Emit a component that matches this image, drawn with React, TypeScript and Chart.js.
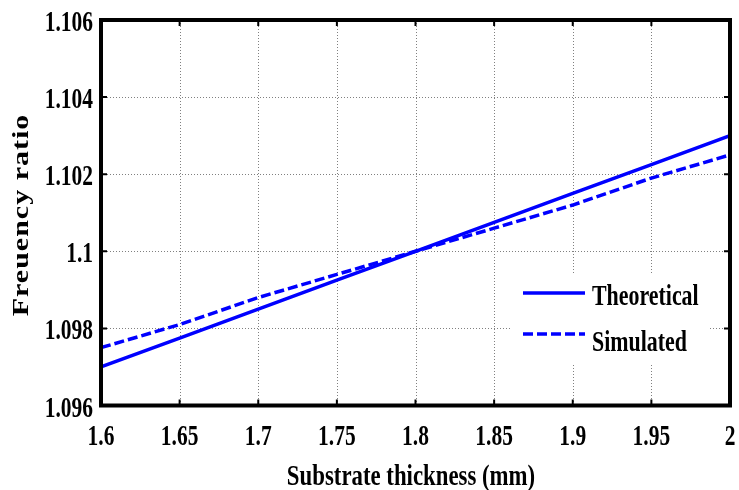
import React, { useEffect, useRef } from "react";
import { Chart, registerables } from "chart.js";

Chart.register(...registerables);

const thickness = [1.6, 1.65, 1.7, 1.75, 1.8, 1.85, 1.9, 1.95, 2.0];
const theoretical = [1.097, 1.09775, 1.0985, 1.09925, 1.1, 1.10075, 1.1015, 1.10225, 1.103];
const simulated = [1.0975, 1.0981, 1.0988, 1.0994, 1.1, 1.1006, 1.1012, 1.1019, 1.1025];
const xTicks = [1.6, 1.65, 1.7, 1.75, 1.8, 1.85, 1.9, 1.95, 2.0];
const xTickLabels = ["1.6", "1.65", "1.7", "1.75", "1.8", "1.85", "1.9", "1.95", "2"];
const yTicks = [1.096, 1.098, 1.1, 1.102, 1.104, 1.106];
const yTickLabels = ["1.096", "1.098", "1.1", "1.102", "1.104", "1.106"];
const seriesNames = ["Theoretical", "Simulated"];
const xTitle = "Substrate thickness (mm)";
const yTitle = "Freuency ratio";

const FONT = "'Liberation Serif', 'Times New Roman', serif";
const BLUE = "#0000FF";

function squishText(ctx: CanvasRenderingContext2D, text: string, x: number, y: number, size: number, sx: number, align: CanvasTextAlign) {
  ctx.save();
  ctx.font = `bold ${size}px ${FONT}`;
  ctx.textAlign = align;
  ctx.textBaseline = "alphabetic";
  ctx.fillStyle = "#000";
  ctx.translate(x, y);
  ctx.scale(sx, 1);
  ctx.fillText(text, 0, 0);
  ctx.restore();
}

const decorPlugin = {
  id: "decor",
  beforeDatasetsDraw(chart: any) {
    const { ctx, chartArea: a, scales } = chart;
    ctx.save();
    ctx.strokeStyle = "#808080";
    ctx.lineWidth = 1;
    ctx.setLineDash([1, 2]);
    xTicks.forEach((v) => {
      const px = Math.round(scales.x.getPixelForValue(v)) + 0.5;
      ctx.beginPath();
      ctx.moveTo(px, a.top);
      ctx.lineTo(px, a.bottom);
      ctx.stroke();
    });
    yTicks.forEach((v) => {
      const py = Math.round(scales.y.getPixelForValue(v)) + 0.5;
      ctx.beginPath();
      ctx.moveTo(a.left, py);
      ctx.lineTo(a.right, py);
      ctx.stroke();
    });
    ctx.restore();
  },
  afterDatasetsDraw(chart: any) {
    const { ctx, chartArea: a, scales } = chart;
    // legend
    ctx.save();
    ctx.fillStyle = "#fff";
    ctx.fillRect(510, 273, 200, 90);
    ctx.strokeStyle = BLUE;
    ctx.lineWidth = 3.5;
    ctx.beginPath();
    ctx.moveTo(523, 293);
    ctx.lineTo(585, 293);
    ctx.stroke();
    ctx.setLineDash([10, 4]);
    ctx.beginPath();
    ctx.moveTo(523, 334);
    ctx.lineTo(585, 334);
    ctx.stroke();
    ctx.restore();
    squishText(ctx, seriesNames[0], 592, 305, 30, 0.73, "left");
    squishText(ctx, seriesNames[1], 592, 351, 30, 0.73, "left");

    // frame
    ctx.save();
    ctx.strokeStyle = "#000";
    ctx.lineWidth = 4;
    ctx.strokeRect(a.left, a.top, a.right - a.left, a.bottom - a.top);
    // inward tick marks
    ctx.lineWidth = 2;
    const tl = 6;
    xTicks.forEach((v) => {
      const px = scales.x.getPixelForValue(v);
      ctx.beginPath();
      ctx.moveTo(px, a.bottom);
      ctx.lineTo(px, a.bottom - tl);
      ctx.moveTo(px, a.top);
      ctx.lineTo(px, a.top + tl);
      ctx.stroke();
    });
    yTicks.forEach((v) => {
      const py = scales.y.getPixelForValue(v);
      ctx.beginPath();
      ctx.moveTo(a.left, py);
      ctx.lineTo(a.left + tl, py);
      ctx.moveTo(a.right, py);
      ctx.lineTo(a.right - tl, py);
      ctx.stroke();
    });
    ctx.restore();

    // tick labels
    xTicks.forEach((v, i) => {
      squishText(ctx, xTickLabels[i], scales.x.getPixelForValue(v), 445, 29, 0.74, "center");
    });
    yTicks.forEach((v, i) => {
      squishText(ctx, yTickLabels[i], 93, scales.y.getPixelForValue(v) + 11, 29, 0.74, "right");
    });

    // axis titles
    squishText(ctx, xTitle, 411, 485, 30, 0.76, "center");
    ctx.save();
    ctx.translate(28, 215);
    ctx.rotate(-Math.PI / 2);
    ctx.scale(1, 0.74);
    ctx.font = `bold 30px ${FONT}`;
    (ctx as any).letterSpacing = "1px";
    ctx.textAlign = "center";
    ctx.textBaseline = "alphabetic";
    ctx.fillStyle = "#000";
    ctx.fillText(yTitle, 0, 0);
    ctx.restore();
  },
};

export default function App() {
  const ref = useRef<HTMLCanvasElement>(null);
  useEffect(() => {
    document.body.style.margin = "0";
    const canvas = ref.current!;
    const chart = new Chart(canvas, {
      type: "line",
      data: {
        labels: thickness,
        datasets: [
          {
            label: seriesNames[0],
            data: thickness.map((x, i) => ({ x, y: theoretical[i] })),
            borderColor: BLUE,
            borderWidth: 3.5,
            pointRadius: 0,
            tension: 0,
            fill: false,
          },
          {
            label: seriesNames[1],
            data: thickness.map((x, i) => ({ x, y: simulated[i] })),
            borderColor: BLUE,
            borderWidth: 3.5,
            borderDash: [10, 4],
            pointRadius: 0,
            tension: 0,
            fill: false,
          },
        ],
      },
      options: {
        responsive: false,
        animation: false,
        devicePixelRatio: 1,
        layout: { padding: { left: 101, right: 9, top: 20, bottom: 84.5 } },
        plugins: { legend: { display: false }, tooltip: { enabled: false } },
        scales: {
          x: {
            type: "linear",
            min: 1.6,
            max: 2.0,
            ticks: { display: false },
            grid: { display: false },
            border: { display: false },
            afterBuildTicks: (s: any) => { s.ticks = xTicks.map((value) => ({ value })); },
            afterFit: (s: any) => { s.height = 0; },
          },
          y: {
            type: "linear",
            min: 1.096,
            max: 1.106,
            ticks: { display: false },
            grid: { display: false },
            border: { display: false },
            afterBuildTicks: (s: any) => { s.ticks = yTicks.map((value) => ({ value })); },
            afterFit: (s: any) => { s.width = 0; },
          },
        },
      } as any,
      plugins: [decorPlugin],
    });
    return () => chart.destroy();
  }, []);
  return (
    <div style={{ width: 739, height: 490, background: "#fff" }}>
      <canvas ref={ref} width={739} height={490} />
    </div>
  );
}
